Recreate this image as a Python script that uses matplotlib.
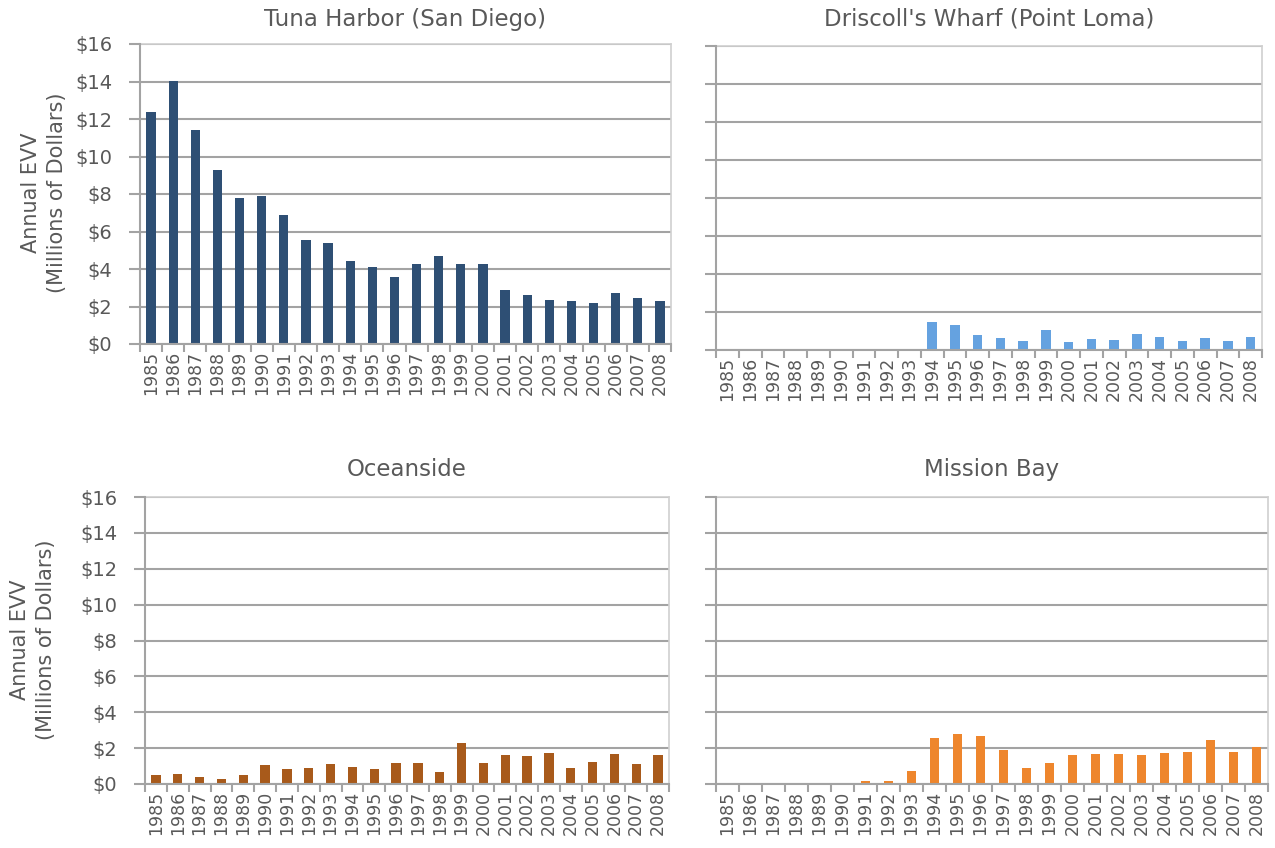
import matplotlib
matplotlib.use('Agg')
import matplotlib.pyplot as plt
import numpy as np

YEARS = [str(y) for y in range(1985, 2009)]

TUNA_HARBOR = [12.4, 14.05, 11.4, 9.3, 7.8, 7.9, 6.9, 5.55, 5.4, 4.45, 4.13, 3.56,
               4.27, 4.7, 4.27, 4.27, 2.88, 2.6, 2.37, 2.28, 2.19, 2.7, 2.47, 2.3]
DRISCOLL = [0, 0, 0, 0, 0, 0, 0, 0, 0, 1.49, 1.31, 0.78, 0.65, 0.48, 1.03, 0.42,
            0.60, 0.53, 0.83, 0.71, 0.46, 0.64, 0.48, 0.67]
OCEANSIDE = [0.48, 0.54, 0.41, 0.30, 0.50, 1.06, 0.81, 0.87, 1.09, 0.94, 0.81, 1.17,
             1.17, 0.67, 2.30, 1.19, 1.59, 1.56, 1.72, 0.91, 1.24, 1.67, 1.09, 1.59]
MISSION_BAY = [0.05, 0, 0, 0, 0.05, 0.05, 0.17, 0.17, 0.72, 2.54, 2.81, 2.70,
               1.91, 0.89, 1.15, 1.61, 1.65, 1.67, 1.61, 1.72, 1.78, 2.43, 1.80, 2.04]

Y_TICKS = [0, 2, 4, 6, 8, 10, 12, 14, 16]
Y_LABELS = ['$0', '$2', '$4', '$6', '$8', '$10', '$12', '$14', '$16']

TEXT = '#595959'
W, H = 1275, 848

plt.rcParams['font.family'] = ['DejaVu Sans']

fig = plt.figure(figsize=(W / 100, H / 100), dpi=100)


def make_axes(x0, y0, x1, y1):
    # pixel box (top-left origin) -> figure fractions
    return fig.add_axes([x0 / W, 1 - y1 / H, (x1 - x0) / W, (y1 - y0) / H])


def panel(ax, values, color, title, show_labels, title_pad):
    x = np.arange(len(YEARS))
    ax.bar(x, values, width=0.42, color=color, zorder=3)
    ax.set_xlim(-0.5, len(YEARS) - 0.5)
    ax.set_ylim(0, 16)
    ax.set_yticks(Y_TICKS)
    ax.grid(axis='y', color='#a3a3a3', linewidth=1.5, zorder=0)
    ax.set_xticks(x)
    ax.set_xticklabels(YEARS, rotation=90, fontsize=12.5, color=TEXT)
    ax.set_xticks(np.arange(-0.5, len(YEARS)), minor=True)
    ax.tick_params(axis='x', which='major', length=0, pad=5)
    ax.tick_params(axis='x', which='minor', length=6, width=1.5, color='#a3a3a3')
    ax.tick_params(axis='y', length=8, width=1.5, color='#a3a3a3', pad=12)
    if show_labels:
        ax.set_yticklabels(Y_LABELS, fontsize=14, color=TEXT)
    else:
        ax.set_yticklabels([])
    for side in ('left', 'bottom'):
        ax.spines[side].set_color('#a3a3a3')
        ax.spines[side].set_linewidth(1.5)
        ax.spines[side].set_zorder(4)
    for side in ('top', 'right'):
        ax.spines[side].set_color('#d0d0d0')
        ax.spines[side].set_linewidth(1.2)
    ax.set_title(title, fontsize=16.5, color=TEXT, pad=title_pad)


ax1 = make_axes(140, 44, 671, 344)
ax2 = make_axes(716, 46, 1262, 350)
ax3 = make_axes(145, 497, 669, 784)
ax4 = make_axes(716, 497, 1268, 784)

panel(ax1, TUNA_HARBOR, '#2e4f74', 'Tuna Harbor (San Diego)', True, 13)
panel(ax2, DRISCOLL, '#65a2e0', "Driscoll's Wharf (Point Loma)", False, 15)
panel(ax3, OCEANSIDE, '#a85a1b', 'Oceanside', True, 15)
panel(ax4, MISSION_BAY, '#ee862d', 'Mission Bay', False, 15)

YLABEL = 'Annual EVV\n(Millions of Dollars)'
fig.text(44 / W, 1 - 193 / H, YLABEL, rotation=90, ha='center', va='center',
         fontsize=15, color=TEXT, linespacing=1.35)
fig.text(33 / W, 1 - 640 / H, YLABEL, rotation=90, ha='center', va='center',
         fontsize=15, color=TEXT, linespacing=1.35)

fig.savefig('out.png', dpi=100)
